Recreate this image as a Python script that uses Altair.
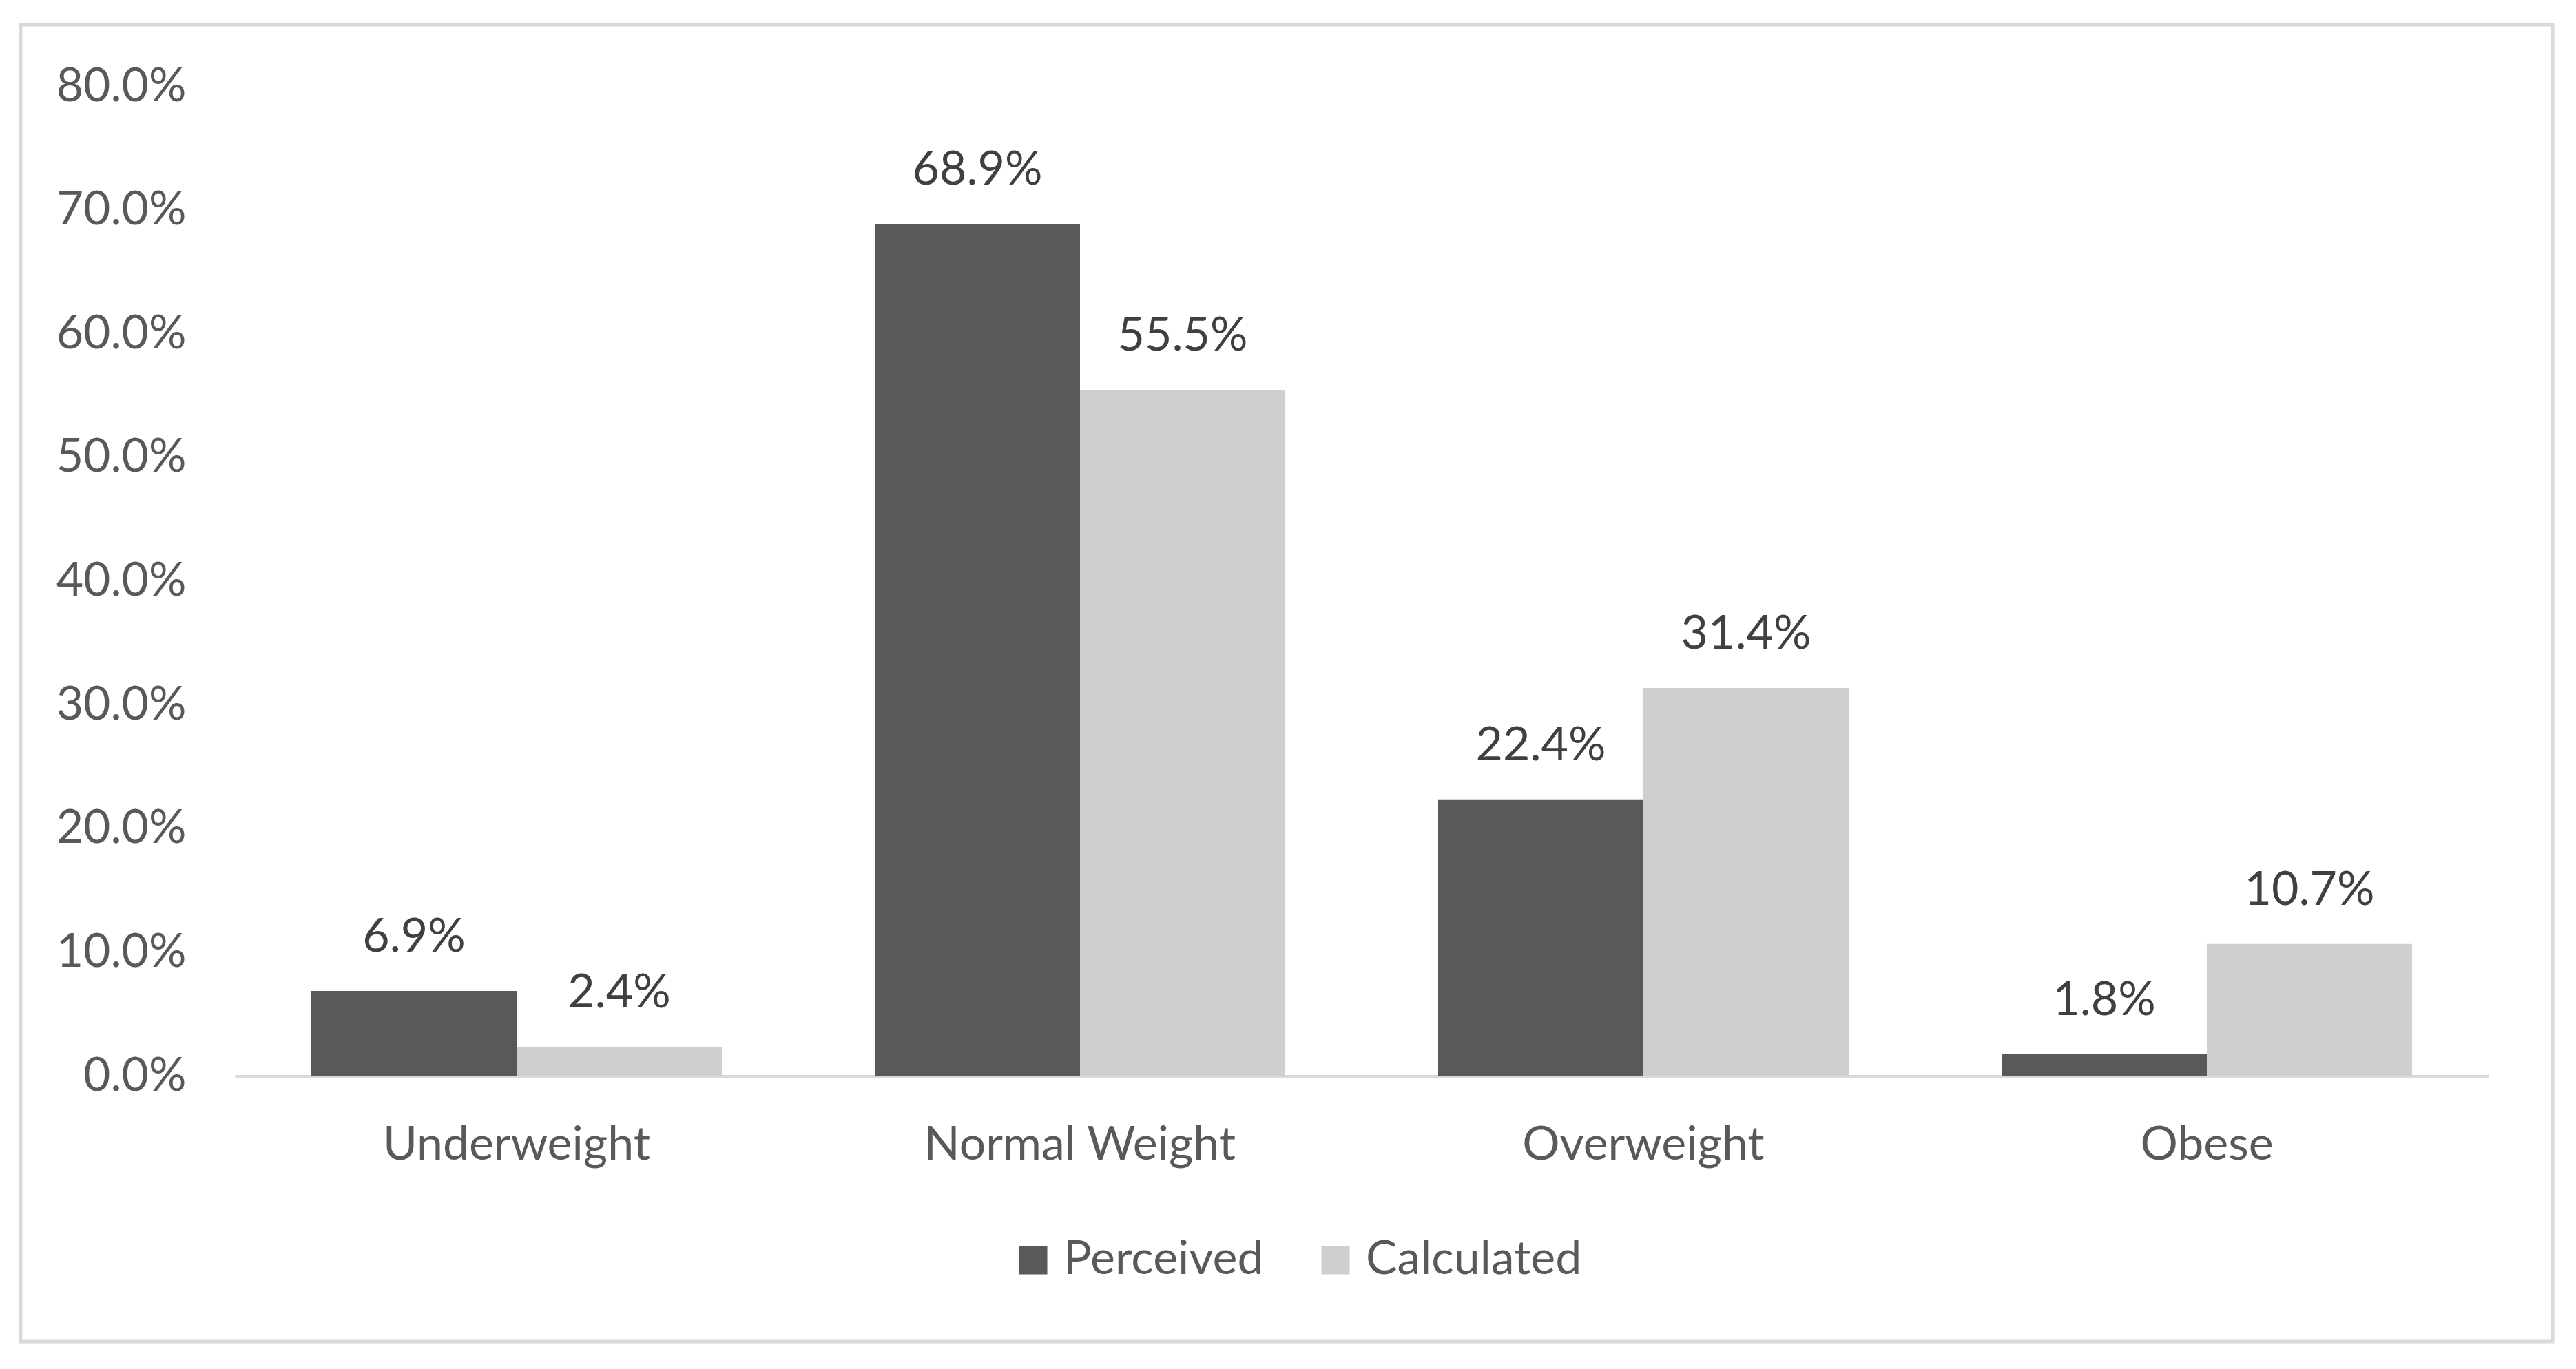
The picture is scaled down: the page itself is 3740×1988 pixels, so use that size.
import altair as alt
import pandas as pd

categories = ["Underweight", "Normal Weight", "Overweight", "Obese"]
series = ["Perceived", "Calculated"]
perceived = [0.069, 0.689, 0.224, 0.018]
calculated = [0.024, 0.555, 0.314, 0.107]
y_ticks = [0.0, 0.1, 0.2, 0.3, 0.4, 0.5, 0.6, 0.7, 0.8]
colors = ["#595959", "#D0CECE"]

rows = []
for c, p, k in zip(categories, perceived, calculated):
    rows.append({"category": c, "series": "Perceived", "value": p})
    rows.append({"category": c, "series": "Calculated", "value": k})
df = pd.DataFrame(rows)

FONT = "Lato"
FS = 68
W, H = 3272, 1437
PL, PT = 333, 118

x_enc = alt.X(
    "category:N", sort=categories, title=None,
    scale=alt.Scale(paddingInner=0.2714, paddingOuter=0.1357),
    axis=alt.Axis(labelAngle=0, labelFont=FONT, labelFontSize=FS, labelColor="#595959",
                  ticks=False, tickSize=0, labelPadding=66, domainColor="#D9D9D9",
                  domainWidth=5, grid=False, labelBaseline="top", labelLimit=0),
)
xo_enc = alt.XOffset("series:N", sort=series, scale=alt.Scale(paddingInner=0, paddingOuter=0))
y_enc = alt.Y(
    "value:Q", title=None,
    scale=alt.Scale(domain=[0, 0.8], nice=False, zero=True),
    axis=alt.Axis(values=y_ticks, format=".1%", labelFont=FONT, labelFontSize=FS,
                  labelColor="#595959", ticks=False, tickSize=0, domain=False, grid=False,
                  labelPadding=71, labelLimit=0),
)

bars = alt.Chart(df).mark_bar().encode(
    x=x_enc, xOffset=xo_enc, y=y_enc,
    color=alt.Color(
        "series:N", sort=series,
        scale=alt.Scale(domain=series, range=colors),
        legend=alt.Legend(title=None, orient="none", direction="horizontal",
                          legendX=1125, legendY=1670, symbolType="square",
                          symbolSize=1681, symbolStrokeWidth=0, labelFont=FONT,
                          labelFontSize=FS, labelColor="#595959", labelOffset=10,
                          columnPadding=70, padding=0, labelLimit=0),
    ),
)

labels = alt.Chart(df).mark_text(
    baseline="alphabetic", dy=-57, font=FONT, fontSize=FS, color="#404040"
).encode(
    x=alt.X("category:N", sort=categories), xOffset=xo_enc,
    y=alt.Y("value:Q"),
    text=alt.Text("value:Q", format=".1%"),
)

frame = alt.Chart(pd.DataFrame({"f": [0]})).mark_rect(
    fill=None, stroke="#D9D9D9", strokeWidth=5
).encode(
    x=alt.value(30 - 341), x2=alt.value(3706 - 341),
    y=alt.value(36 - 126), y2=alt.value(1948 - 126),
)

chart = alt.layer(frame, bars, labels).properties(
    width=W, height=H,
    autosize=alt.AutoSizeParams(type="none"),
    padding={"left": PL, "top": PT, "right": 119, "bottom": 417},
    background="white",
).configure_view(stroke=None)

chart.save("out.html", embed_options={"renderer": "svg", "actions": False})
